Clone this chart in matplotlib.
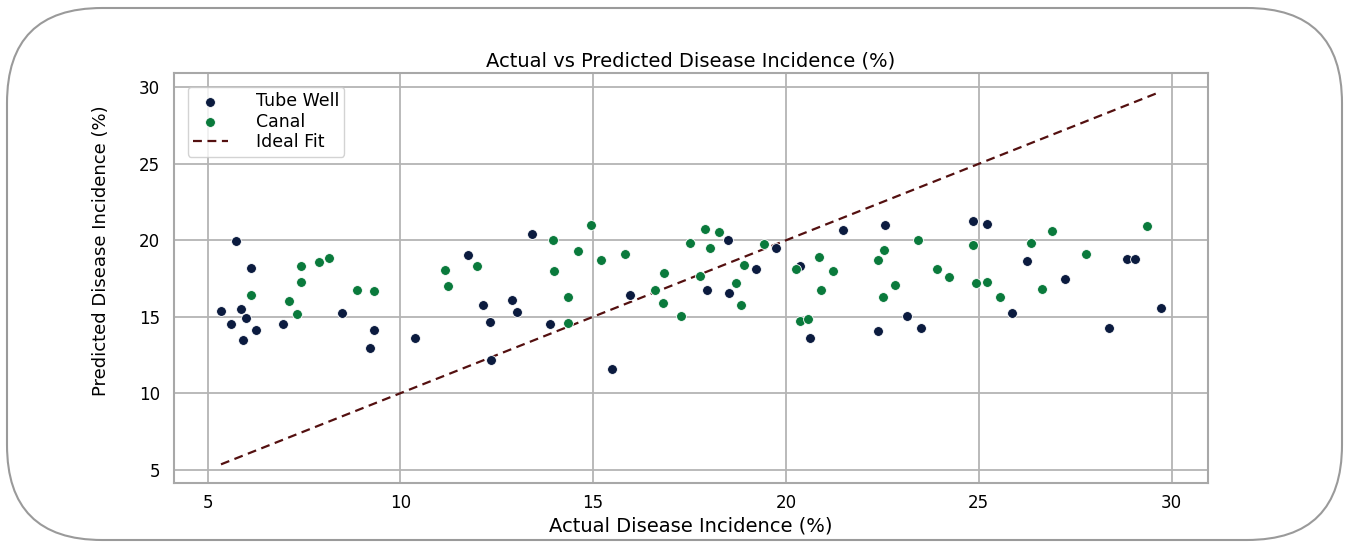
import matplotlib
matplotlib.use("Agg")
import matplotlib.pyplot as plt
import matplotlib.patches as mpatches
import numpy as np

# values
tube_actual = [5.35, 5.61, 5.75, 5.87, 6.00, 5.93, 6.14, 6.27, 6.95, 8.48, 9.21, 9.32,
               10.38, 11.75, 12.14, 12.32, 12.34, 12.90, 13.03, 13.42, 13.87, 15.95,
               15.48, 18.49, 17.94, 18.53, 19.22, 19.74, 20.36, 20.62, 21.48, 22.57,
               24.84, 25.22, 22.38, 23.13, 23.49, 25.87, 26.25, 27.23, 28.38, 28.84,
               29.04, 29.72]
tube_pred = [15.35, 14.52, 19.96, 15.50, 14.93, 13.50, 18.20, 14.13, 14.52, 15.24, 12.96, 14.15,
             13.63, 19.06, 15.78, 14.63, 12.20, 16.09, 15.33, 20.43, 14.52, 16.41,
             11.56, 20.04, 16.72, 16.57, 18.11, 19.50, 18.30, 13.58, 20.70, 21.00,
             21.26, 21.05, 14.04, 15.04, 14.26, 15.22, 18.65, 17.50, 14.26, 18.80,
             18.80, 15.57]

canal_actual = [6.12, 7.12, 7.33, 7.42, 7.43, 7.89, 8.16, 8.88, 9.32, 11.16, 11.24, 11.99,
                13.97, 13.99, 14.36, 14.34, 14.60, 14.95, 15.21, 15.82, 16.60, 16.84,
                16.81, 17.27, 17.51, 17.76, 17.89, 18.02, 18.26, 18.70, 18.90, 18.84,
                19.44, 20.26, 20.85, 21.22, 20.91, 20.37, 20.57, 22.54, 22.38, 23.42,
                23.92, 24.22, 22.84, 22.52, 24.86, 24.93, 25.22, 25.54, 26.35, 26.90,
                26.64, 27.79, 29.36]
canal_pred = [16.41, 16.04, 15.20, 17.30, 18.30, 18.57, 18.83, 16.78, 16.67, 18.07, 16.98, 18.33,
              20.00, 18.00, 16.30, 14.60, 19.28, 21.02, 18.74, 19.13, 16.78, 17.83,
              15.87, 15.08, 19.81, 17.65, 20.74, 19.48, 20.56, 17.20, 18.39, 15.76,
              19.74, 18.11, 18.93, 18.00, 16.74, 14.72, 14.87, 19.39, 18.74, 20.00,
              18.13, 17.59, 17.10, 16.32, 19.68, 17.20, 17.26, 16.30, 19.81, 20.59,
              16.83, 19.13, 20.96]

all_actual = tube_actual + canal_actual
ideal = [min(all_actual), max(all_actual)]

fig = plt.figure(figsize=(13.51, 5.42), dpi=100)
ax = fig.add_axes([0.1288, 0.1089, 0.7652, 0.7564])

ax.scatter(tube_actual, tube_pred, s=50, color="#0b1b3f", edgecolor="white",
           linewidth=0.6, label="Tube Well", zorder=3)
ax.scatter(canal_actual, canal_pred, s=50, color="#0a7a3c", edgecolor="white",
           linewidth=0.6, label="Canal", zorder=3)
ax.plot(ideal, ideal, "--", color="#541010", linewidth=1.6, dashes=(4, 2.5),
        label="Ideal Fit", zorder=2)

ax.set_xticks([5, 10, 15, 20, 25, 30])
ax.set_yticks([5, 10, 15, 20, 25, 30])
ax.tick_params(labelsize=12, length=0, pad=10)
ax.tick_params(axis="x", pad=8)
ax.grid(True, color="#b4b4b4", linewidth=1.3)
ax.set_axisbelow(True)
for sp in ax.spines.values():
    sp.set_color("#a8a8a8")
    sp.set_linewidth(1.5)

ax.set_title("Actual vs Predicted Disease Incidence (%)", fontsize=14, pad=5)
ax.set_xlabel("Actual Disease Incidence (%)", fontsize=14, labelpad=3)
ax.set_ylabel("Predicted Disease Incidence (%)", fontsize=13)
ax.yaxis.set_label_coords(-0.062, 0.566)

leg = ax.legend(loc="upper left", fontsize=12.5, frameon=True, borderpad=0.3,
                labelspacing=0.15, handletextpad=1.6, markerscale=1.0,
                borderaxespad=0.8)
leg.get_frame().set_edgecolor("#c8c8c8")

# rounded border around whole picture
border = mpatches.FancyBboxPatch((7, 2), 1335, 532, boxstyle="round,pad=0,rounding_size=95",
                                 transform=None, fill=False, edgecolor="#9a9a9a", linewidth=1.5)
fig.patches.append(border)

fig.savefig("out.png", dpi=100)
